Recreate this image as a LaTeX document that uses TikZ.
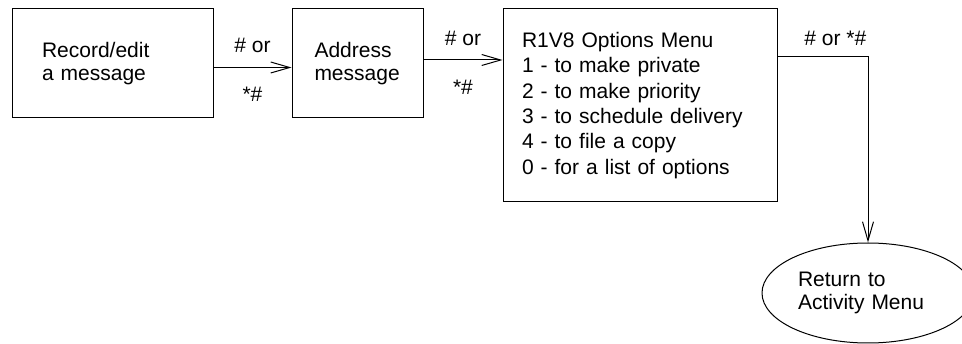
\documentclass[tikz,border=0pt]{standalone}
\usepackage{fontspec}
\setmainfont{Liberation Sans}
\usetikzlibrary{arrows.meta,shapes.geometric}

\begin{document}
\begin{tikzpicture}[x=1pt,y=-1pt,line width=1pt,
   >={Straight Barb[length=19pt,width=11pt]},
   font=\fontsize{21}{23}\selectfont,
   box/.style={draw,rectangle,inner sep=0pt,align=left},
   lbl/.style={inner sep=0pt}]
   \useasboundingbox (0,0) rectangle (962,344);
   \node[box,minimum width=201pt,minimum height=109pt,text width=141pt] (rec) at (112.5,63.5) {Record/edit\\a message};
   \node[box,minimum width=131pt,minimum height=109pt,text width=86pt] (addr) at (357.5,63.5) {Address\\message};
   \node[box,minimum width=274pt,minimum height=193pt,text width=236pt,
         font=\fontsize{21}{25.3}\selectfont] (opts) at (640,105.5)
         {R1V8 Options Menu\\1 - to make private\\2 - to make priority\\3 - to schedule delivery\\4 - to file a copy\\0 - for a list of options};
   \node[draw,ellipse,inner sep=0pt,minimum width=212pt,minimum height=100pt,
         text width=140pt,align=left] (ret) at (868,293) {Return to\\Activity Menu};
    \draw[->] ([yshift=-4pt]rec.east) --
        node[lbl,above=14pt] {\# or}
        node[lbl,below=19pt] {*\#}
        ([yshift=-4pt]rec.east -| addr.west);
    \draw[->] ([yshift=3.5pt]addr.east) --
        node[lbl,above=13.5pt] {\# or}
        node[lbl,below=19.5pt] {*\#}
        ([yshift=3.5pt]addr.east -| opts.west);
    \draw[->] ([yshift=-48pt]opts.north east) -|
        node[lbl,pos=.32,above=10pt] {\# or *\#} (ret.north);
\end{tikzpicture}
\end{document}
